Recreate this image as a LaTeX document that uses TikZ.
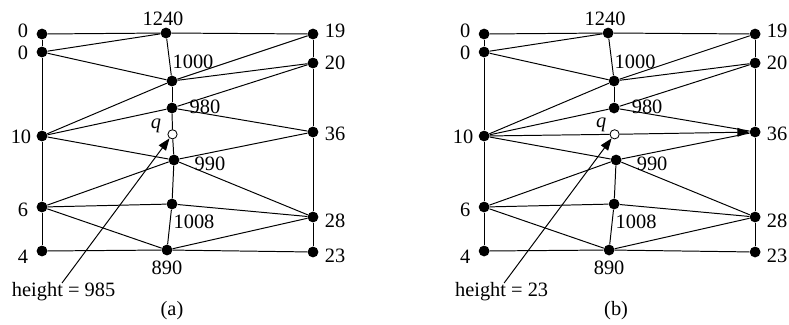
\documentclass[tikz,border=0pt]{standalone}
\usepackage{fontspec}
\setmainfont{Liberation Serif}
\usetikzlibrary{arrows.meta}

% vertices and edges shared by both panels
\newcommand{\drawmesh}{%
  \node[vtx] (n0a) at (42,34) {};
  \node[vtx] (n0b) at (42,52) {};
  \node[vtx] (n1240) at (166,33) {};
  \node[vtx] (n19) at (313,34) {};
  \node[vtx] (n20) at (313,63) {};
  \node[vtx] (n1000) at (172,81) {};
  \node[vtx] (n980) at (172,108) {};
  \node[hole] (q) at (172.5,134.3) {};
  \node[vtx] (n10) at (42,136) {};
  \node[vtx] (n36) at (313,132) {};
  \node[vtx] (n990) at (174,160) {};
  \node[vtx] (n6) at (42,207) {};
  \node[vtx] (n1008) at (172,204) {};
  \node[vtx] (n28) at (313,217) {};
  \node[vtx] (n4) at (42,251) {};
  \node[vtx] (n890) at (167,250) {};
  \node[vtx] (n23) at (313,252) {};
  % labels
  \node (l0a) at (23,31) {0};
  \node (l0b) at (23,53) {0};
  \node (l1240) at (163,19) {1240};
  \node (l19) at (335,31) {19};
  \node (l20) at (335,63) {20};
  \node (l1000) at (193,62) {1000};
  \node (l980) at (205,107) {980};
  \node (l10) at (21,137) {10};
  \node (l36) at (335,134) {36};
  \node (l990) at (210,164) {990};
  \node (l6) at (23,210) {6};
  \node (l1008) at (194,222) {1008};
  \node (l28) at (335,221) {28};
  \node (l4) at (23,257) {4};
  \node (l890) at (167,268) {890};
  \node (l23) at (335,256) {23};
  \foreach \x/\y in {n0a/n1240,n1240/n19,n0a/n0b,n0b/n10,n10/n6,n6/n4,n4/n890,n890/n23,
    n19/n20,n20/n36,n36/n28,n28/n23,n0b/n1240,n0b/n1000,n1240/n1000,n1000/n19,n1000/n20,
    n1000/n980,n10/n1000,n10/n980,n980/n20,n980/n36,n10/n990,n990/n36,n990/n28,n990/n6,
    n990/n1008,n6/n1008,n1008/n28,n6/n890,n890/n1008,n890/n28}{\draw[edge] (\x)--(\y);}
  \coordinate (hs) at (62,283);
}

\begin{document}
\begin{tikzpicture}[x=0.025cm, y=-0.025cm, every node/.style={font=\fontsize{14.5}{16}\selectfont}, vtx/.style={circle, fill=black, inner sep=0pt, minimum size=2.7mm}, hole/.style={circle, draw=black, fill=white, line width=0.6pt, inner sep=0pt, minimum size=2.3mm}, edge/.style={line width=0.7pt}, ptr/.style={-{Triangle[length=3mm,width=2.2mm]}, line width=0.7pt}]
\useasboundingbox (0,0) rectangle (789,324);
% panel (a)
\begin{scope}[name prefix=a-]
\drawmesh
\draw[edge] (n980)--(q)--(n990);
\node (lq) at (156,126) {\textit{q}};
\node[anchor=west] (hgt) at (7,292) {height = 985};
\draw[ptr] (hs)--(q);
\node (cap) at (172,311) {(a)};
\end{scope}
% panel (b)
\begin{scope}[name prefix=b-, xshift=11.05cm]
\drawmesh
\draw[ptr] (n10)--(q)--(n36);
\node (lq) at (159,125) {\textit{q}};
\node[anchor=west] (hgt) at (8,292) {height = 23};
\draw[ptr] (hs)--(q);
\node (cap) at (174,311) {(b)};
\end{scope}
\end{tikzpicture}
\end{document}
